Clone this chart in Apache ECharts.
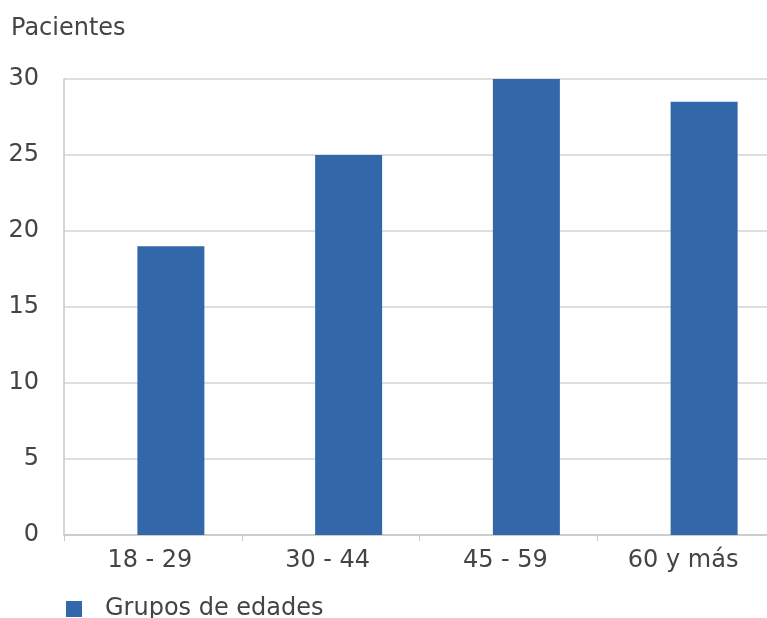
<!DOCTYPE html>
<html>
<head>
<meta charset="utf-8">
<script src="https://cdn.jsdelivr.net/npm/echarts@6/dist/echarts.min.js"></script>
<style>
html,body{margin:0;padding:0;background:#fff;}
#chart{width:767px;height:618px;}
</style>
</head>
<body>
<div id="chart"></div>
<script>
const categories = ['18 - 29', '30 - 44', '45 - 59', '60 y más'];
const pacientes = [19, 25, 30, 28.5];
const seriesName = 'Grupos de edades';
const yAxisName = 'Pacientes';

const FONT = 'DejaVu Sans';
const TEXT = '#444444';
const FS = 24;
const chart = echarts.init(document.getElementById('chart'), null, {renderer: 'canvas'});
chart.setOption({
  animation: false,
  backgroundColor: '#ffffff',
  textStyle: {fontFamily: FONT},
  legend: {
    left: 61, top: 592,
    itemWidth: 16, itemHeight: 16, itemGap: 10,
    icon: 'rect',
    textStyle: {fontFamily: FONT, fontSize: FS, color: TEXT, padding: [0,0,0,18]},
    data: [seriesName]
  },
  grid: [
    {left: 64, width: 711, top: 79, height: 456, containLabel: false, outerBoundsMode: 'none'},
    {left: 82, width: 711, top: 79, height: 456, containLabel: false, outerBoundsMode: 'none'}
  ],
  xAxis: [
    {
      type: 'category', gridIndex: 0, data: categories,
      boundaryGap: true,
      axisLine: {show: true, lineStyle: {color: '#c8c8c8', width: 1.5}},
      axisTick: {show: true, length: 6, lineStyle: {color: '#c8c8c8'}},
      axisLabel: {fontFamily: FONT, fontSize: FS, color: TEXT, margin: 14, padding: [0, 6, 0, 0]}
    },
    {
      type: 'category', gridIndex: 1, data: categories,
      boundaryGap: true, show: false
    }
  ],
  yAxis: [
    {
      type: 'value', gridIndex: 0, min: 0, max: 30, interval: 5,
      name: yAxisName,
      nameLocation: 'end',
      nameGap: 38,
      nameTextStyle: {fontFamily: FONT, fontSize: FS, color: TEXT, align: 'left', padding: [0,0,0,-53]},
      axisLine: {show: true, lineStyle: {color: '#c8c8c8', width: 1.5}},
      axisTick: {show: false},
      axisLabel: {fontFamily: FONT, fontSize: FS, color: TEXT, margin: 25},
      splitLine: {show: true, lineStyle: {color: '#d4d4d4', width: 1.5}}
    },
    {
      type: 'value', gridIndex: 1, min: 0, max: 30, interval: 5, show: false,
      splitLine: {show: false}
    }
  ],
  series: [
    {
      name: seriesName, type: 'bar',
      xAxisIndex: 1, yAxisIndex: 1,
      data: pacientes,
      barWidth: 67,
      itemStyle: {color: '#3268AA'}
    }
  ]
});
</script>
</body>
</html>
